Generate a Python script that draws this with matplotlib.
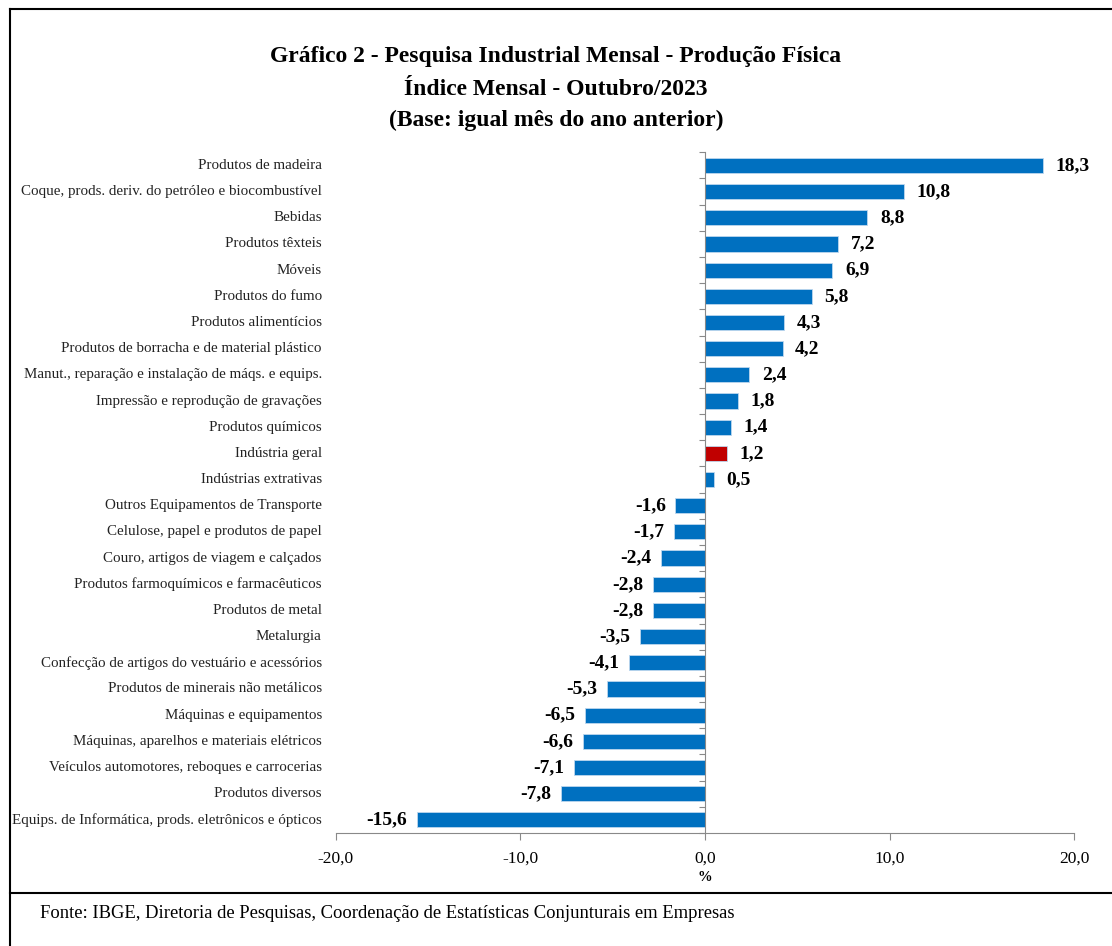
import matplotlib.pyplot as plt
from matplotlib.lines import Line2D

categorias = [
    "Produtos de madeira",
    "Coque, prods. deriv. do petróleo e biocombustível",
    "Bebidas",
    "Produtos têxteis",
    "Móveis",
    "Produtos do fumo",
    "Produtos alimentícios",
    "Produtos de borracha e de material plástico",
    "Manut., reparação e instalação de máqs. e equips.",
    "Impressão e reprodução de gravações",
    "Produtos químicos",
    "Indústria geral",
    "Indústrias extrativas",
    "Outros Equipamentos de Transporte",
    "Celulose, papel e produtos de papel",
    "Couro, artigos de viagem e calçados",
    "Produtos farmoquímicos e farmacêuticos",
    "Produtos de metal",
    "Metalurgia",
    "Confecção de artigos do vestuário e acessórios",
    "Produtos de minerais não metálicos",
    "Máquinas e equipamentos",
    "Máquinas, aparelhos e materiais elétricos",
    "Veículos automotores, reboques e carrocerias",
    "Produtos diversos",
    "Equips. de Informática, prods. eletrônicos e ópticos",
]
valores = [18.3, 10.8, 8.8, 7.2, 6.9, 5.8, 4.3, 4.2, 2.4, 1.8, 1.4, 1.2, 0.5,
           -1.6, -1.7, -2.4, -2.8, -2.8, -3.5, -4.1, -5.3, -6.5, -6.6, -7.1, -7.8, -15.6]
destaque = "Indústria geral"
xticks = [-20, -10, 0, 10, 20]

serif = ["Liberation Serif", "DejaVu Serif"]
plt.rcParams["font.family"] = serif

fig = plt.figure(figsize=(11.12, 9.46), dpi=100)
ax = fig.add_axes([0.302, 0.1195, 0.664, 0.7195])

n = len(categorias)
ypos = list(range(n))
cores = ["#C00000" if c == destaque else "#0070C0" for c in categorias]
ax.barh(ypos, valores, height=0.58, color=cores, edgecolor="#BDD7EE", linewidth=0.6, zorder=2)

ax.set_ylim(n - 0.5, -0.5)
ax.set_xlim(-20, 20)

for i, (c, v) in enumerate(zip(categorias, valores)):
    ax.text(-0.019, i, c, transform=ax.get_yaxis_transform(), ha="right", va="center",
            fontsize=10.8, color="#222222")
    off = 9 if v >= 0 else -7
    ax.annotate(f"{v:.1f}".replace(".", ","), (v, i), xytext=(off, 0), textcoords="offset points",
                ha="left" if v >= 0 else "right", va="center", fontsize=14, fontweight="bold")

# eixo vertical no zero com marcas entre categorias
for s in ["top", "right"]:
    ax.spines[s].set_visible(False)
ax.spines["left"].set_position(("data", 0))
ax.spines["left"].set_color("#898989")
ax.spines["bottom"].set_color("#898989")
ax.set_yticks([i - 0.5 for i in range(n + 1)])
ax.set_yticklabels([])
ax.tick_params(axis="y", length=4, color="#898989")

ax.set_xticks(xticks)
ax.set_xticklabels([f"{t:.1f}".replace(".", ",") for t in xticks], fontsize=12.5)
ax.tick_params(axis="x", length=5, color="#898989", pad=8)
ax.set_xlabel("%", fontsize=10.5, fontweight="bold", labelpad=3)

fig.text(0.5, 0.940, "Gráfico 2 - Pesquisa Industrial Mensal - Produção Física", ha="center", va="center",
         fontsize=17, fontweight="bold")
fig.text(0.5, 0.905, "Índice Mensal - Outubro/2023", ha="center", va="center", fontsize=17, fontweight="bold")
fig.text(0.5, 0.873, "(Base: igual mês do ano anterior)", ha="center", va="center", fontsize=17, fontweight="bold")

fig.text(0.036, 0.034, "Fonte: IBGE, Diretoria de Pesquisas, Coordenação de Estatísticas Conjunturais em Empresas",
         ha="left", va="center", fontsize=13.4)

# moldura
fig.add_artist(Line2D([0.009, 0.009], [0, 0.99], transform=fig.transFigure, color="black", lw=1.5))
fig.add_artist(Line2D([0.009, 1], [0.99, 0.99], transform=fig.transFigure, color="black", lw=1.5))
fig.add_artist(Line2D([0.009, 1], [0.056, 0.056], transform=fig.transFigure, color="black", lw=1.5))

fig.savefig("out.png", dpi=100)
